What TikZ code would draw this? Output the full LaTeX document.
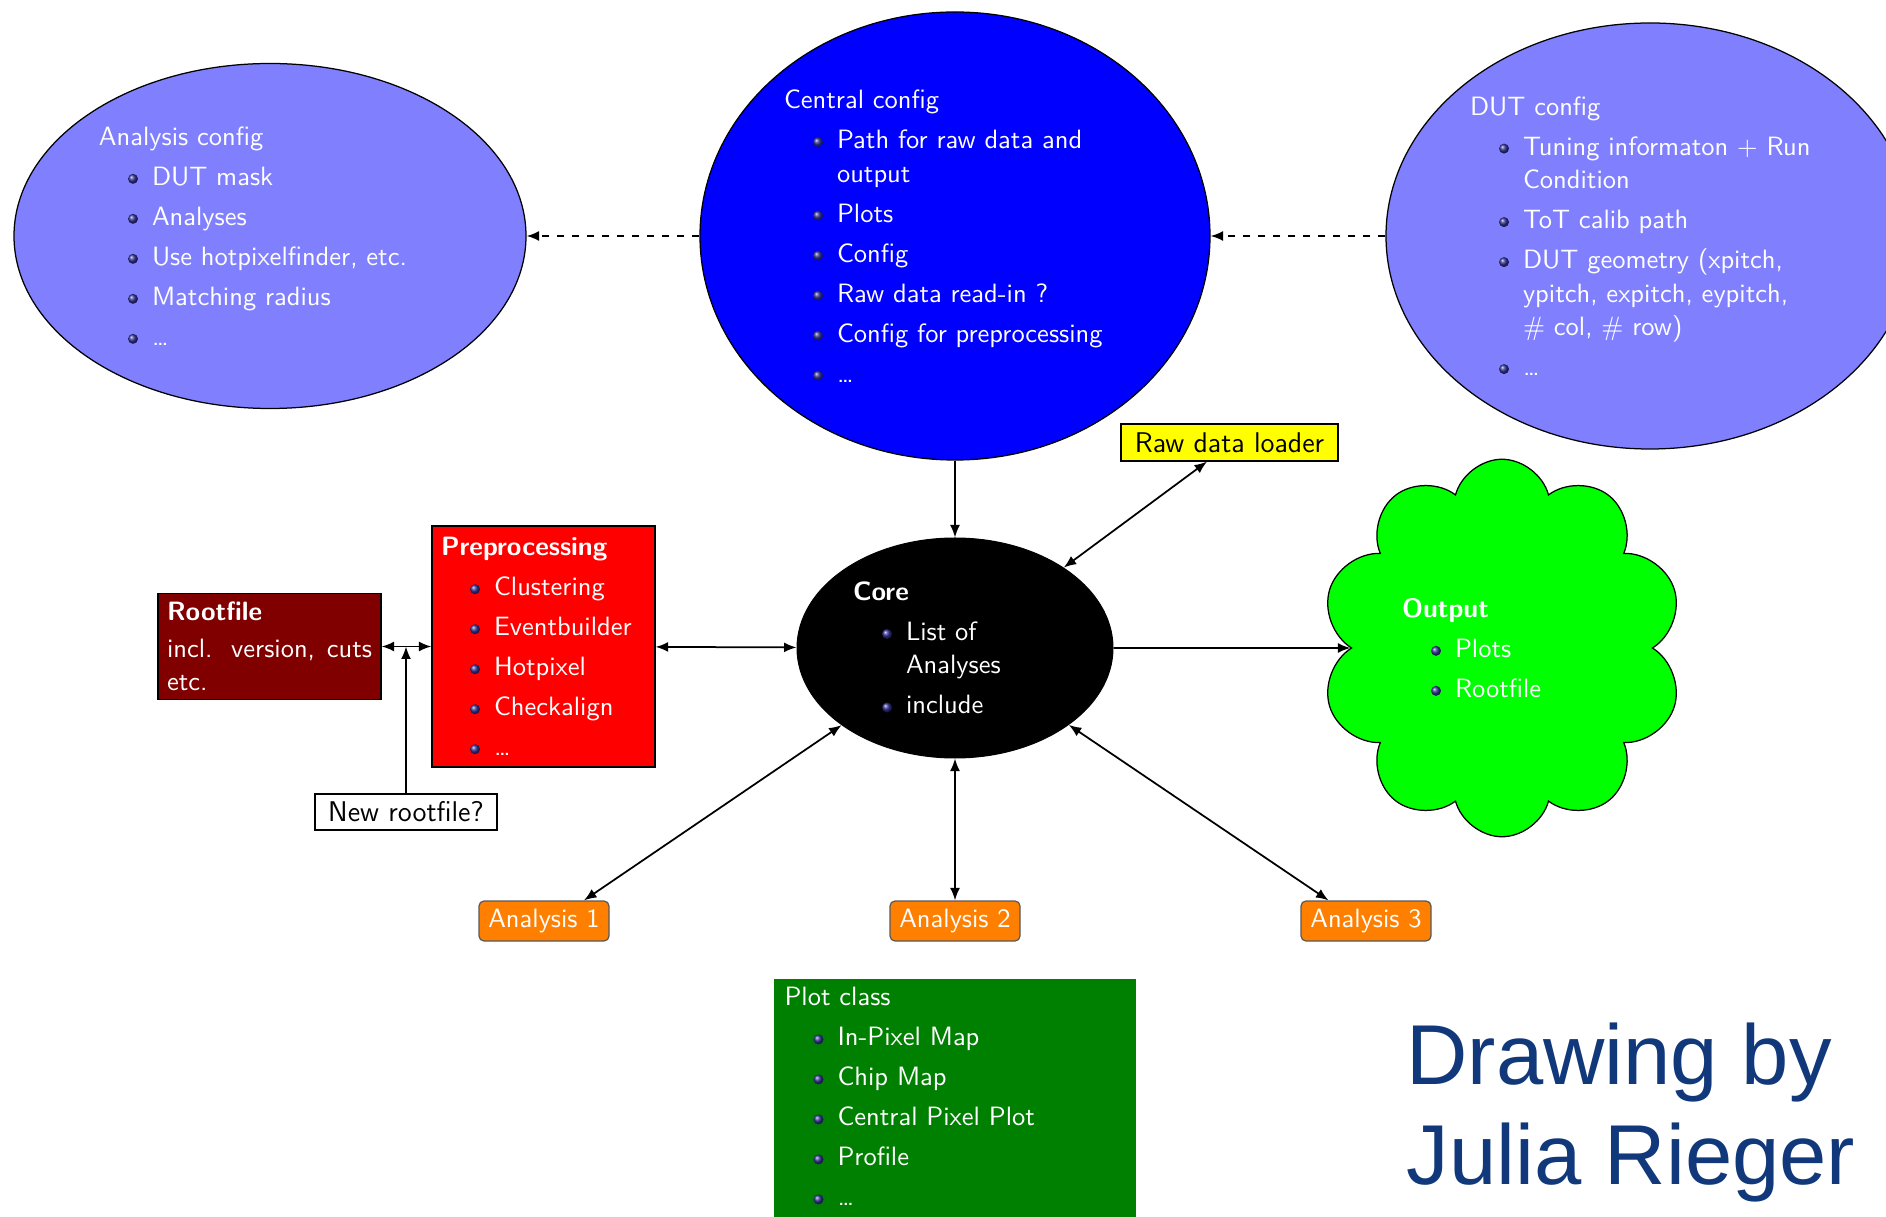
\documentclass[tikz,border=0pt]{standalone}
\usepackage{fontspec}
\newfontfamily\creditfont{Liberation Sans}
\usetikzlibrary{arrows.meta,positioning,shapes.geometric,shapes.symbols,calc}
\definecolor{CfgLight}{RGB}{128,128,255}
\definecolor{CfgBlue}{RGB}{0,0,255}
\definecolor{RootRed}{RGB}{128,0,0}
\definecolor{PrepRed}{RGB}{255,0,0}
\definecolor{LoadYellow}{RGB}{255,255,0}
\definecolor{OutGreen}{RGB}{0,255,0}
\definecolor{PlotGreen}{RGB}{0,128,0}
\definecolor{AnaOrange}{RGB}{255,128,0}
\definecolor{CreditBlue}{RGB}{16,56,122}
\definecolor{BulletBlue}{RGB}{50,50,150}
% beamer-like list items
\newcommand{\bul}{\tikz[baseline=-2.6pt]\shade[ball color=BulletBlue] (0,0) circle (2pt);}
\newcommand{\itm}[1]{\hspace*{11.6pt}\bul\hspace{5.6pt}#1}
\newcommand{\cnt}[1]{\hspace*{21.2pt}#1}
\newcommand{\gap}{\\[2.6pt]}
\tikzset{
  cfgell/.style={ellipse, draw=black, line width=0.5pt, fill=CfgLight, text=white,
    inner sep=0pt, align=left},
  coreell/.style={ellipse, draw=black, fill=black, text=white, inner sep=0pt, align=left,
    minimum width=126.4pt, minimum height=88pt, text width=81.6pt},
  outcloud/.style={cloud, cloud puffs=10, cloud ignores aspect, draw=black, line width=0.5pt,
    fill=OutGreen, text=white, align=left, inner sep=0pt,
    minimum width=145pt, minimum height=151pt, text width=80pt},
  prepbox/.style={rectangle, draw=black, line width=0.5pt, fill=PrepRed, text=white,
    align=left, text width=82pt, inner xsep=3.6pt, minimum height=96.4pt},
  rootbox/.style={rectangle, draw=black, line width=0.5pt, fill=RootRed, text=white,
    align=justify, text width=82pt, inner xsep=3.6pt, minimum height=41.2pt},
  loaderbox/.style={rectangle, draw=black, line width=0.5pt, fill=LoadYellow,
    minimum width=86.8pt, minimum height=14.8pt, inner sep=1pt,
    font=\sffamily\fontsize{11.4}{13.4}\selectfont},
  askbox/.style={rectangle, draw=black, line width=0.5pt, fill=white,
    minimum width=72.8pt, minimum height=14.4pt, inner sep=1pt,
    font=\sffamily\fontsize{11.4}{13.4}\selectfont},
  anabox/.style={rectangle, rounded corners=2pt, draw=black!65, line width=0.5pt,
    fill=AnaOrange, text=white, minimum width=52pt, minimum height=16pt, inner sep=1pt},
  plotbox/.style={rectangle, fill=PlotGreen, text=white, align=left, text width=136pt,
    inner xsep=4.4pt, inner ysep=3.6pt},
  credit/.style={align=left, inner sep=0pt, text=CreditBlue,
    font=\creditfont\fontsize{34}{40}\selectfont},
  arrow/.style={-{Latex[length=5pt,width=4pt]}, line width=0.7pt, draw=black},
  biarrow/.style={{Latex[length=5pt,width=4pt]}-{Latex[length=5pt,width=4pt]},
    line width=0.7pt, draw=black},
  dasharrow/.style={-{Latex[length=5pt,width=4pt]}, line width=0.7pt, dashed, draw=black}
}
\begin{document}
\begin{tikzpicture}[
  x=0.4pt, y=-0.4pt,
  every node/.style={font=\sffamily\fontsize{10.6}{13.4}\selectfont}
]
  \useasboundingbox (0,0) rectangle (1886,1217);
  \clip (0,0) rectangle (1886,1217);
  % configs
  \node[cfgell, minimum width=204.8pt, minimum height=138pt, text width=136.8pt] (anacfg) at (270,236)
    {Analysis config\gap \itm{DUT mask}\gap \itm{Analyses}\gap \itm{Use hotpixelfinder, etc.}\gap
     \itm{Matching radius}\gap \itm{\dots}};
  \node[cfgell, fill=CfgBlue, minimum width=204pt, minimum height=179.2pt, text width=136.8pt] (central) at (955,236)
    {Central config\gap \itm{Path for raw data and}\\ \cnt{output}\gap \itm{Plots}\gap \itm{Config}\gap
     \itm{Raw data read-in ?}\gap \itm{Config for preprocessing}\gap \itm{\dots}};
  \node[cfgell, minimum width=211.2pt, minimum height=170.4pt, text width=144pt] (dutcfg) at (1650,236)
    {DUT config\gap \itm{Tuning informaton + Run}\\ \cnt{Condition}\gap \itm{ToT calib path}\gap
     \itm{DUT geometry (xpitch,}\\ \cnt{ypitch, expitch, eypitch,}\\ \cnt{\# col, \# row)}\gap \itm{\dots}};
  % core and its neighbours
  \node[loaderbox] (loader) at (1229.5,442.5) {Raw data loader};
  \node[coreell] (core) at (955,648)
    {\textbf{Core}\gap \itm{List of}\\ \cnt{Analyses}\gap \itm{include}};
  \node[prepbox] (prep) at (543.5,646.5)
    {\textbf{Preprocessing}\gap \itm{Clustering}\gap \itm{Eventbuilder}\gap \itm{Hotpixel}\gap
     \itm{Checkalign}\gap \itm{\dots}};
  \node[rootbox] (rootf) at (269.5,646.5) {\textbf{Rootfile}\\[1.4pt] incl. version, cuts etc.};
  \node[askbox] (newroot) at (406,812) {New rootfile?};
  \node[outcloud] (output) at (1502,648) {\textbf{Output}\gap \itm{Plots}\gap \itm{Rootfile}};
  % analyses
  \node[anabox] (ana1) at (544,921) {Analysis 1};
  \node[anabox] (ana2) at (955,921) {Analysis 2};
  \node[anabox] (ana3) at (1366,921) {Analysis 3};
  \node[plotbox, anchor=north west] (plotcls) at (773,978)
    {Plot class\gap \itm{In-Pixel Map}\gap \itm{Chip Map}\gap \itm{Central Pixel Plot}\gap
     \itm{Profile}\gap \itm{\dots}\rule[-14pt]{0pt}{1pt}};
  \node[credit, anchor=north west] (credit) at (1406,1022) {Drawing by\\Julia Rieger};
  % connections
  \draw[dasharrow] (central) -- (anacfg);
  \draw[dasharrow] (dutcfg) -- (central);
  \draw[arrow] (central) -- (core);
  \draw[biarrow] (core) -- ([xshift=-9pt]loader.south);
  \draw[biarrow] (prep) -- (core);
  \draw[arrow] (core) -- (output);
  \draw[biarrow] (rootf) -- (prep);
  \draw[arrow] (newroot) -- (newroot |- rootf);
  \draw[biarrow] (core) -- ([xshift=16pt]ana1.north);
  \draw[biarrow] (core) -- (ana2);
  \draw[biarrow] (core) -- ([xshift=-15pt]ana3.north);
\end{tikzpicture}
\end{document}
